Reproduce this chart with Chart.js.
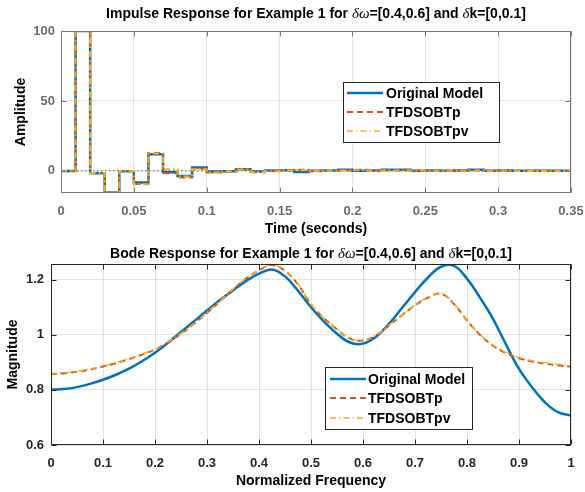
<!DOCTYPE html>
<html>
<head>
<meta charset="utf-8">
<script src="https://cdn.jsdelivr.net/npm/chart.js@4.4.1/dist/chart.umd.min.js"></script>
<style>
html, body { margin: 0; padding: 0; background: #fff; }
#wrap { position: relative; width: 585px; height: 492px; }
#c1 { position: absolute; left: 0; top: 0; }
#c2 { position: absolute; left: 0; top: 240px; }
</style>
</head>
<body>
<div id="wrap">
  <canvas id="c1" width="585" height="240"></canvas>
  <canvas id="c2" width="585" height="252"></canvas>
</div>
<script>
// ---- impulse response data (sampled every 0.01 s, zero-order hold) ----
var timeSec = [0, 0.01, 0.02, 0.03, 0.04, 0.05, 0.06, 0.07, 0.08, 0.09,
    0.10, 0.11, 0.12, 0.13, 0.14, 0.15, 0.16, 0.17, 0.18, 0.19,
    0.20, 0.21, 0.22, 0.23, 0.24, 0.25, 0.26, 0.27, 0.28, 0.29,
    0.30, 0.31, 0.32, 0.33, 0.34, 0.35];
var impOriginal = [0, 100, -1.7, -15.5, -0.3, -8.3, 11.9, -0.9, -3.6, 2.4,
    -0.5, -0.2, 1.2, -0.5, 0.2, 0.4, -0.7, 0.1, 0.2, 0.8,
    0.1, 0.2, 0.8, 0.8, 0.1, 0.2, 0.1, 0.2, 0.8, 0.1,
    0.2, 0.1, 0.1, 0.1, 0.1, 0.1];
var impTFDSOBTp = [0, 100, -1.5, -15.5, 0, -9.3, 12.8, -1.7, -4.8, 1.5,
    -1.2, -0.5, 1.0, -1.0, -0.3, 0.5, 0.8, -0.2, 0.2, 0.3,
    0.8, 0.2, 0.3, 0.3, 0.2, 0.2, 0.1, 0.2, 0.3, 0.1,
    0.1, 0.1, 0.1, 0.1, 0.1, 0];
var impTFDSOBTpv = [0, 100, -1.5, -15.5, 0, -9.5, 12.5, 1.2, -4.0, 1.2,
    -1.2, -0.3, 1.0, -0.8, -0.2, 0.5, 0.5, 0, 0.2, 0.2,
    0.4, 0.1, 0.3, 0.3, 0.2, 0.1, 0.1, 0.1, 0.2, 0.1,
    0.1, 0, 0, 0, 0, 0];
var timeTicks = [0, 0.05, 0.1, 0.15, 0.2, 0.25, 0.3, 0.35];
var ampTicks = [0, 50, 100];

// ---- bode magnitude data ----
var normFreq = [0, 0.025, 0.05, 0.075, 0.1, 0.125, 0.15, 0.175, 0.2, 0.225,
    0.25, 0.275, 0.3, 0.325, 0.35, 0.375, 0.4, 0.425, 0.45, 0.475,
    0.5, 0.525, 0.55, 0.575, 0.6, 0.625, 0.65, 0.675, 0.7, 0.725,
    0.75, 0.775, 0.8, 0.825, 0.85, 0.875, 0.9, 0.925, 0.95, 0.975, 1];
var magOriginal = [0.801, 0.803, 0.810, 0.822, 0.837, 0.855, 0.877, 0.904, 0.935, 0.971,
    1.010, 1.049, 1.088, 1.126, 1.161, 1.195, 1.222, 1.237, 1.212, 1.160,
    1.100, 1.048, 1.004, 0.972, 0.968, 0.993, 1.040, 1.097, 1.155, 1.208,
    1.247, 1.250, 1.204, 1.135, 1.058, 0.965, 0.876, 0.810, 0.755, 0.719, 0.707];
var magTFDSOBTp = [0.858, 0.860, 0.866, 0.874, 0.885, 0.897, 0.912, 0.928, 0.947, 0.973,
    1.004, 1.040, 1.080, 1.122, 1.165, 1.204, 1.234, 1.253, 1.232, 1.183,
    1.110, 1.060, 1.020, 0.986, 0.979, 0.998, 1.034, 1.071, 1.107, 1.135,
    1.149, 1.112, 1.052, 1.000, 0.961, 0.933, 0.915, 0.903, 0.895, 0.889, 0.884];
var magTFDSOBTpv = [0.860, 0.862, 0.868, 0.876, 0.887, 0.899, 0.914, 0.930, 0.948, 0.974,
    1.005, 1.041, 1.081, 1.123, 1.166, 1.205, 1.235, 1.254, 1.233, 1.184,
    1.111, 1.061, 1.021, 0.987, 0.980, 0.999, 1.035, 1.072, 1.108, 1.136,
    1.150, 1.113, 1.054, 1.002, 0.963, 0.936, 0.918, 0.906, 0.899, 0.893, 0.888];
var freqTicks = [0, 0.1, 0.2, 0.3, 0.4, 0.5, 0.6, 0.7, 0.8, 0.9, 1];
var magTicks = [0.6, 0.8, 1, 1.2];

var seriesNames = ['Original Model', 'TFDSOBTp', 'TFDSOBTpv'];

var BLUE = '#0072BD', ORANGE = '#D95319', YELLOW = '#EDB120';
var SANS = '"Liberation Sans", Arial, Helvetica, sans-serif';
var SERIF = '"Liberation Serif", "Times New Roman", serif';

function pts(xs, ys) {
    return xs.map(function (x, i) { return { x: x, y: ys[i] }; });
}

function titleParts(prefix) {
    return [
        { t: prefix + ' for Example 1 for ', f: 'bold 14px ' + SANS },
        { t: '\u03B4\u03C9', f: 'italic 15px ' + SERIF },
        { t: '=[0.4,0.6] and ', f: 'bold 14px ' + SANS },
        { t: '\u03B4', f: 'italic 15px ' + SERIF },
        { t: 'k=[0,0.1]', f: 'bold 14px ' + SANS }
    ];
}

// draws the matlab-ish frame, title, axis labels and the legend box
var matlabAxes = {
    id: 'matlabAxes',
    afterDraw: function (chart, args, o) {
        var ctx = chart.ctx, a = chart.chartArea;
        var xs = chart.scales.x, ys = chart.scales.y;
        ctx.save();

        // box + inward ticks
        ctx.strokeStyle = o.boxColor;
        ctx.lineWidth = 1;
        var L = Math.round(a.left) + 0.5, R = Math.round(a.right) - 0.5;
        var T = Math.round(a.top) + 0.5, B = Math.round(a.bottom) - 0.5;
        ctx.strokeRect(L, T, R - L, B - T);
        ctx.beginPath();
        o.xTicks.forEach(function (v) {
            var px = Math.round(xs.getPixelForValue(v)) + 0.5;
            ctx.moveTo(px, B); ctx.lineTo(px, B - 5);
            ctx.moveTo(px, T); ctx.lineTo(px, T + 5);
        });
        o.yTicks.forEach(function (v) {
            var py = Math.round(ys.getPixelForValue(v)) + 0.5;
            ctx.moveTo(L, py); ctx.lineTo(L + 5, py);
            ctx.moveTo(R, py); ctx.lineTo(R - 5, py);
        });
        ctx.stroke();

        // title (mixed fonts)
        ctx.fillStyle = '#000';
        ctx.textBaseline = 'middle';
        ctx.textAlign = 'left';
        var total = 0;
        o.title.forEach(function (p) { ctx.font = p.f; total += ctx.measureText(p.t).width; });
        var cx = (a.left + a.right) / 2 - total / 2;
        o.title.forEach(function (p) {
            ctx.font = p.f;
            ctx.fillText(p.t, cx, o.titleY);
            cx += ctx.measureText(p.t).width;
        });

        // axis labels
        ctx.font = 'bold 14px ' + SANS;
        ctx.textAlign = 'center';
        ctx.fillText(o.xLabel, (a.left + a.right) / 2, o.xLabelY);
        ctx.save();
        ctx.translate(o.yLabelX, (a.top + a.bottom) / 2);
        ctx.rotate(-Math.PI / 2);
        ctx.fillText(o.yLabel, 0, 0);
        ctx.restore();

        // legend
        var lg = o.legend;
        ctx.fillStyle = '#fff';
        ctx.fillRect(lg.x, lg.y, lg.w, lg.h);
        ctx.strokeStyle = '#262626';
        ctx.strokeRect(lg.x + 0.5, lg.y + 0.5, lg.w, lg.h);
        var styles = [
            { c: BLUE, w: 2.5, d: [] },
            { c: ORANGE, w: 2, d: [6, 4] },
            { c: YELLOW, w: 1.5, d: [6, 3, 1.5, 3] }
        ];
        ctx.textAlign = 'left';
        ctx.font = 'bold 14px ' + SANS;
        seriesNames.forEach(function (name, i) {
            var yy = lg.rows[i];
            ctx.beginPath();
            ctx.strokeStyle = styles[i].c;
            ctx.lineWidth = styles[i].w;
            ctx.setLineDash(styles[i].d);
            ctx.moveTo(lg.x1, yy); ctx.lineTo(lg.x2, yy);
            ctx.stroke();
            ctx.setLineDash([]);
            ctx.fillStyle = '#000';
            ctx.fillText(name, lg.tx, yy + 1);
        });
        ctx.restore();
    }
};

function fixedTicks(list) {
    return function (scale) {
        scale.ticks = list.map(function (v) { return { value: v }; });
    };
}

function fitX(h) {
    return function (s) {
        s.height = h;
        s.paddingLeft = 0; s.paddingRight = 0;
    };
}

function fitY(w) {
    return function (s) {
        s.width = w;
        s.paddingTop = 0; s.paddingBottom = 0;
    };
}

function tickFont() {
    return { family: SANS, size: 13, weight: 'bold' };
}

// ---------- top: impulse response ----------
new Chart(document.getElementById('c1').getContext('2d'), {
    type: 'line',
    data: {
        datasets: [
            { label: 'zero', data: pts([0, 0.35], [0, 0]), borderColor: '#555', borderWidth: 1,
              borderDash: [1.5, 2.5], pointRadius: 0, order: 4 },
            { label: seriesNames[0], data: pts(timeSec, impOriginal), borderColor: BLUE, borderWidth: 2.5,
              stepped: 'before', pointRadius: 0, order: 3 },
            { label: seriesNames[1], data: pts(timeSec, impTFDSOBTp), borderColor: ORANGE, borderWidth: 2,
              borderDash: [6, 4], stepped: 'before', pointRadius: 0, order: 2 },
            { label: seriesNames[2], data: pts(timeSec, impTFDSOBTpv), borderColor: YELLOW, borderWidth: 2,
              borderDash: [6, 3, 1.5, 3], stepped: 'before', pointRadius: 0, order: 1 }
        ]
    },
    options: {
        responsive: false,
        animation: false,
        devicePixelRatio: 1,
        layout: { padding: { top: 31, right: 14, left: 0, bottom: 0 }, autoPadding: false },
        plugins: {
            legend: { display: false },
            tooltip: { enabled: false },
            matlabAxes: {
                boxColor: '#7a7a7a',
                xTicks: timeTicks, yTicks: ampTicks,
                title: titleParts('Impulse Response'), titleY: 14,
                xLabel: 'Time (seconds)', xLabelY: 229,
                yLabel: 'Amplitude', yLabelX: 21,
                legend: { x: 343, y: 82, w: 156, h: 60, x1: 347, x2: 383, tx: 386, rows: [93, 112, 131] }
            }
        },
        scales: {
            x: {
                type: 'linear', min: 0, max: 0.35,
                afterBuildTicks: fixedTicks(timeTicks),
                afterFit: fitX(47),
                grid: { color: '#e2e2e2', drawTicks: false },
                border: { display: false },
                ticks: { font: tickFont(), color: '#6b6b6b', padding: 11, maxRotation: 0,
                         callback: function (v) { return String(v); } }
            },
            y: {
                type: 'linear', min: -15.8, max: 100,
                afterBuildTicks: fixedTicks(ampTicks),
                afterFit: fitY(61),
                grid: { color: '#e2e2e2', drawTicks: false },
                border: { display: false },
                ticks: { font: tickFont(), color: '#6b6b6b', padding: 6,
                         callback: function (v) { return String(v); } }
            }
        }
    },
    plugins: [matlabAxes]
});

// ---------- bottom: bode magnitude ----------
new Chart(document.getElementById('c2').getContext('2d'), {
    type: 'line',
    data: {
        datasets: [
            { label: seriesNames[0], data: pts(normFreq, magOriginal), borderColor: BLUE, borderWidth: 2.5,
              tension: 0.4, pointRadius: 0, order: 3 },
            { label: seriesNames[1], data: pts(normFreq, magTFDSOBTp), borderColor: ORANGE, borderWidth: 2,
              borderDash: [6, 4], tension: 0.4, pointRadius: 0, order: 2 },
            { label: seriesNames[2], data: pts(normFreq, magTFDSOBTpv), borderColor: YELLOW, borderWidth: 1.5,
              borderDash: [6, 3, 1.5, 3], tension: 0.4, pointRadius: 0, order: 1 }
        ]
    },
    options: {
        responsive: false,
        animation: false,
        devicePixelRatio: 1,
        layout: { padding: { top: 24, right: 14, left: 0, bottom: 0 }, autoPadding: false },
        plugins: {
            legend: { display: false },
            tooltip: { enabled: false },
            matlabAxes: {
                boxColor: '#262626',
                xTicks: freqTicks, yTicks: magTicks,
                title: titleParts('Bode Response'), titleY: 14,
                xLabel: 'Normalized Frequency', xLabelY: 241,
                yLabel: 'Magnitude', yLabelX: 13,
                legend: { x: 325, y: 127, w: 147, h: 62, x1: 330, x2: 366, tx: 368, rows: [139, 158, 178] }
            }
        },
        scales: {
            x: {
                type: 'linear', min: 0, max: 1,
                afterBuildTicks: fixedTicks(freqTicks),
                afterFit: fitX(47),
                grid: { color: '#e2e2e2', drawTicks: false },
                border: { display: false },
                ticks: { font: tickFont(), color: '#262626', padding: 11, maxRotation: 0,
                         callback: function (v) { return String(v); } }
            },
            y: {
                type: 'linear', min: 0.6, max: 1.257,
                afterBuildTicks: fixedTicks(magTicks),
                afterFit: fitY(51),
                grid: { color: '#e2e2e2', drawTicks: false },
                border: { display: false },
                ticks: { font: tickFont(), color: '#262626', padding: 7,
                         callback: function (v) { return String(v); } }
            }
        }
    },
    plugins: [matlabAxes]
});
</script>
</body>
</html>
